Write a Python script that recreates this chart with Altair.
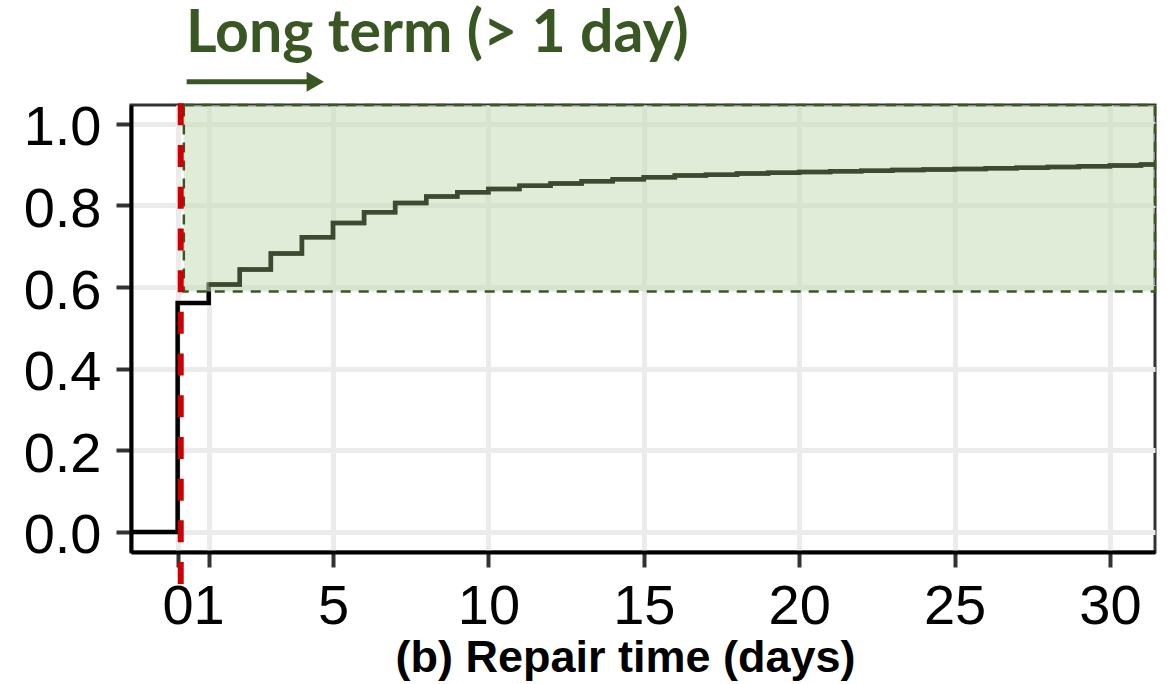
import altair as alt
import pandas as pd

# Empirical CDF of repair time (days); -2 and 33 pad the step line past the axes
ecdf_days = [-2, 0, 1, 2, 3, 4, 5, 6, 7, 8, 9, 10, 11, 12, 13, 14, 15, 16,
             17, 18, 19, 20, 21, 22, 23, 24, 25, 26, 27, 28, 29, 30, 31, 33]
ecdf_prob = [0.0, 0.561, 0.606, 0.643, 0.682, 0.722, 0.757, 0.783, 0.806,
             0.822, 0.832, 0.840, 0.848, 0.854, 0.859, 0.864, 0.869, 0.873,
             0.875, 0.878, 0.880, 0.882, 0.884, 0.885, 0.887, 0.888, 0.889,
             0.891, 0.892, 0.894, 0.896, 0.898, 0.900, 0.900]

x_ticks = [0, 1, 5, 10, 15, 20, 25, 30]
y_ticks = [0.0, 0.2, 0.4, 0.6, 0.8, 1.0]
x_domain = [-1.50, 31.45]
y_domain = [-0.049, 1.046]

# one-day cutoff marker and the shaded long-term region
cutoff_x = [0.1]
cutoff_y = [1.05]
cutoff_y2 = [-0.1285]
region_x = [0.2]
region_x2 = [31.45]
region_y = [0.589]
region_y2 = [1.046]

# annotation above the panel
label_text = ["Long term (> 1 day)"]
label_x = [0.27]
label_y = [1.176]
arrow_x = [0.29]
arrow_x2 = [4.26]
arrow_y = [1.1028]
arrow_head_x = [4.43]

GREEN = "#385723"
FONT = "Liberation Sans"

ecdf = pd.DataFrame({"x": ecdf_days, "y": ecdf_prob})
region = pd.DataFrame({"x": region_x, "x2": region_x2, "y": region_y, "y2": region_y2})
cutoff = pd.DataFrame({"x": cutoff_x, "y": cutoff_y, "y2": cutoff_y2})
label = pd.DataFrame({"x": label_x, "y": label_y, "t": label_text})
arrow = pd.DataFrame({"x": arrow_x, "x2": arrow_x2, "y": arrow_y, "hx": arrow_head_x})

xs = alt.Scale(domain=x_domain, nice=False, zero=False)
ys = alt.Scale(domain=y_domain, nice=False, zero=False)

x_axis = alt.Axis(
    values=x_ticks, format="d", title="(b) Repair time (days)",
    labelFont=FONT, labelFontSize=56, labelColor="black", labelPadding=12,
    labelOverlap=False, labelFlush=False,
    tickSize=15, tickWidth=4, tickColor="#333333",
    domainColor="black", domainWidth=4,
    grid=True, gridColor="#ebebeb", gridWidth=5,
    titleFont=FONT, titleFontWeight="bold", titleFontSize=45, titleColor="black",
    titleX=494, titleY=119.5, titleBaseline="alphabetic", titleAlign="center",
)
y_axis = alt.Axis(
    values=y_ticks, format=".1f", title=None,
    labelFont=FONT, labelFontSize=56, labelColor="black", labelPadding=15,
    labelOffset=4,
    tickSize=15, tickWidth=4, tickColor="#333333",
    domainColor="black", domainWidth=4,
    grid=True, gridColor="#ebebeb", gridWidth=5,
)


def X(field):
    return alt.X(field, type="quantitative", scale=xs, axis=x_axis, title="(b) Repair time (days)")


def Y(field):
    return alt.Y(field, type="quantitative", scale=ys, axis=y_axis, title=None)


base_line = alt.Chart(ecdf).mark_line(
    interpolate="step-after", color="black", strokeWidth=4.5, clip=True
).encode(x=X("x"), y=Y("y"))

shade = alt.Chart(region).mark_rect(
    fill="#c7dcb8", fillOpacity=0.55, stroke=GREEN, strokeWidth=2.5,
    strokeDash=[10, 8]
).encode(x=X("x"), x2="x2:Q", y=Y("y"), y2="y2:Q")

long_line = alt.Chart(ecdf).transform_filter(alt.datum.x >= 1).mark_line(
    interpolate="step-after", color="#3d4a2f", strokeWidth=4.5, clip=True
).encode(x=X("x"), y=Y("y"))

cut = alt.Chart(cutoff).mark_rule(
    color="#cc0000", strokeWidth=6, strokeDash=[22, 19.7]
).encode(x=X("x"), y=Y("y"), y2="y2:Q")

note = alt.Chart(label).mark_text(
    align="left", baseline="alphabetic", font="Lato", fontWeight="bold",
    fontSize=59, color=GREEN
).encode(x=X("x"), y=Y("y"), text="t:N")

arrow_shaft = alt.Chart(arrow).mark_rule(color=GREEN, strokeWidth=5).encode(
    x=X("x"), x2="x2:Q", y=Y("y")
)
arrow_head = alt.Chart(arrow).mark_point(
    shape="triangle-right", filled=True, size=400, color=GREEN, opacity=1
).encode(x=X("hx"), y=Y("y"))

chart = alt.layer(
    base_line, shade, long_line, cut, note, arrow_shaft, arrow_head
).properties(
    width=1024, height=447,
    autosize=alt.AutoSizeParams(type="none"),
    padding={"left": 131, "top": 105, "right": 15, "bottom": 132},
    background="white",
).configure_view(stroke="#333333", strokeWidth=3)

chart.save("out.html", embed_options={"renderer": "svg", "actions": False})
